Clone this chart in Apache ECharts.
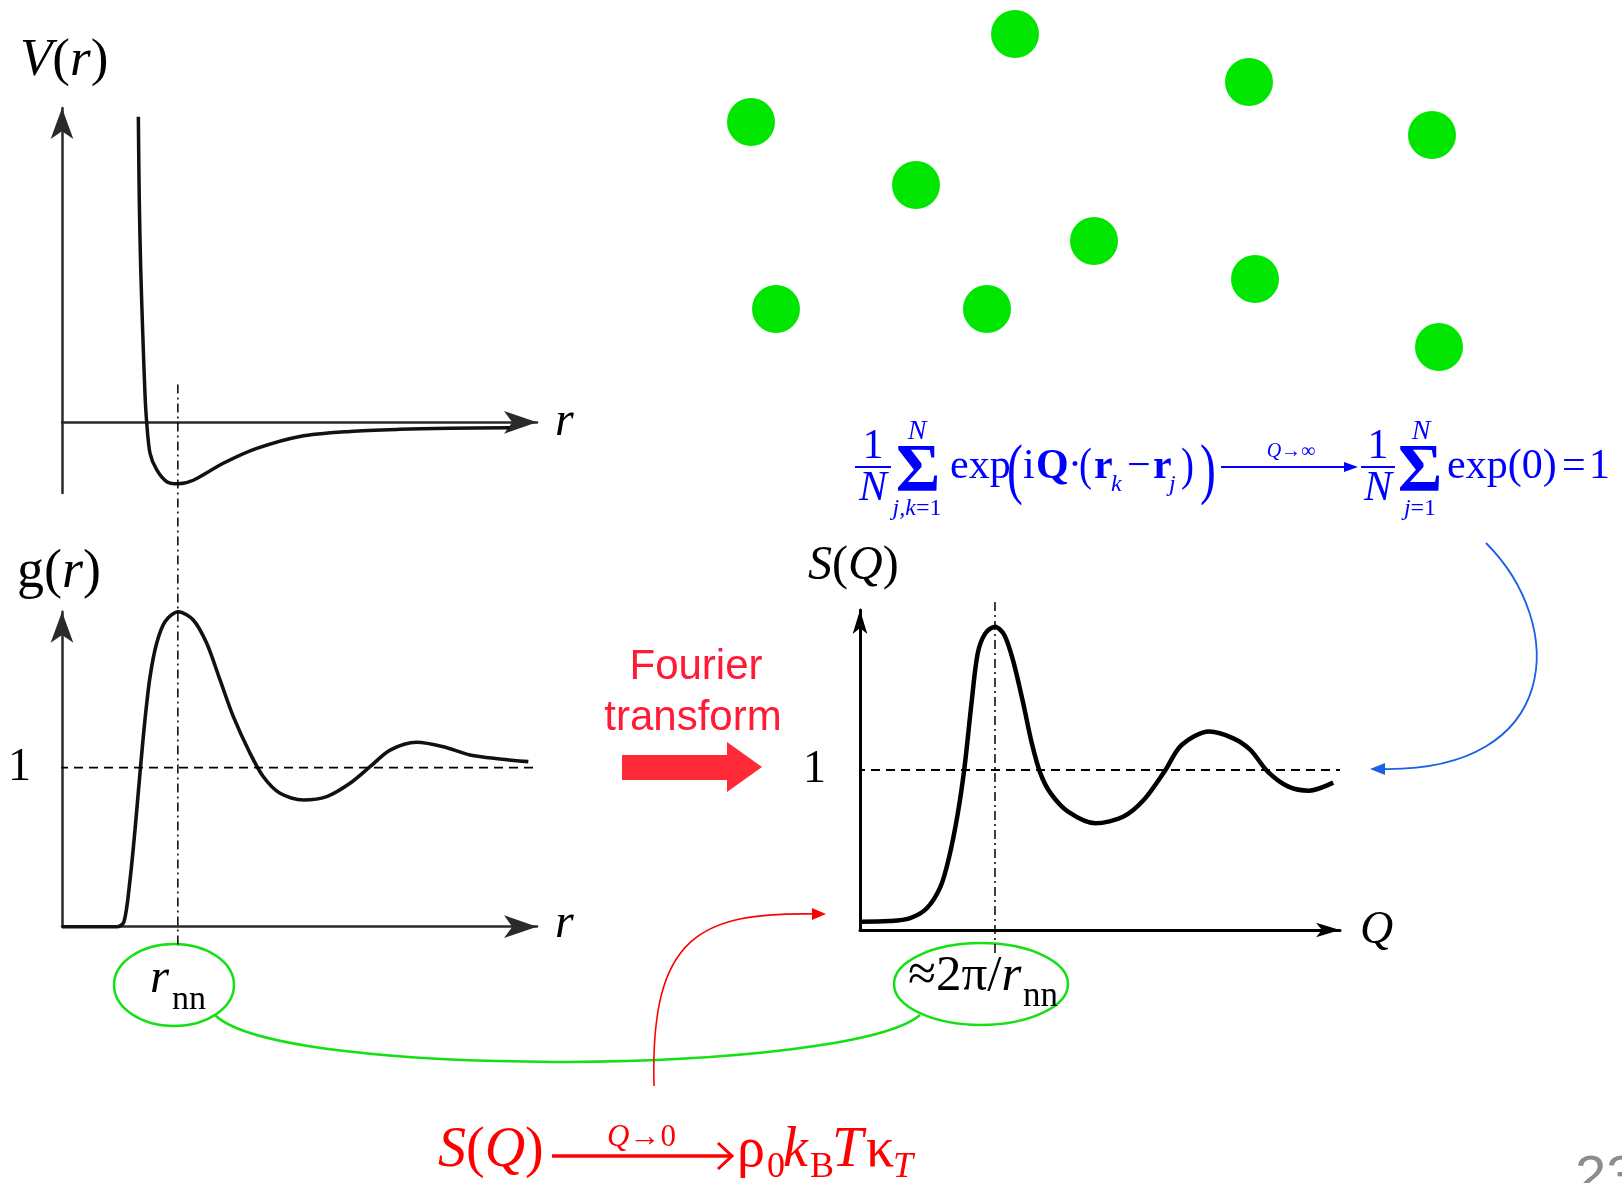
<!DOCTYPE html>
<html><head><meta charset="utf-8">
<script src="https://cdn.jsdelivr.net/npm/echarts@6/dist/echarts.min.js"></script>
<style>html,body{margin:0;padding:0;background:#fff;}#c{width:1622px;height:1183px;}</style>
</head><body><div id="c"></div>
<script>
// ---- data ----
// V(r): r in units of r_nn, V in arbitrary units
const vR = [0.659,0.667,0.679,0.697,0.716,0.731,0.760,0.817,0.904,1.004,1.133,1.392,1.681,2.054,2.486,2.918,3.349,3.867];
const vV = [4.32,3.15,2.20,1.26,0.41,0,-0.44,-0.67,-0.84,-0.87,-0.82,-0.58,-0.37,-0.20,-0.13,-0.10,-0.085,-0.076];
// g(r)
const gR = [0,0.472,0.535,0.587,0.630,0.673,0.716,0.760,0.817,0.889,1.004,1.133,1.249,1.364,1.479,1.623,1.738,1.882,2.083,2.285,2.486,2.659,2.832,3.062,3.291,3.522,3.781,4.025];
const gG = [0,0,0.031,0.294,0.608,0.965,1.30,1.572,1.782,1.918,1.981,1.929,1.782,1.552,1.321,1.091,0.943,0.839,0.797,0.818,0.902,1.006,1.111,1.160,1.132,1.080,1.055,1.038];
// S(Q)
const sQ = [0.028,1.345,2.304,3.109,3.747,4.152,4.552,4.868,5.189,5.478,5.832,6.283,6.716,7.116,7.596,7.996,8.396,8.876,9.681,10.961,12.245,13.204,14.167,14.968,16.252,17.374,18.174,18.975,19.938,20.897,22.024];
const sS = [0.052,0.056,0.073,0.136,0.271,0.458,0.729,1.021,1.417,1.729,1.854,1.896,1.844,1.688,1.417,1.167,0.979,0.854,0.740,0.667,0.708,0.8125,0.990,1.156,1.240,1.198,1.125,0.990,0.896,0.871,0.921];
// particles
const dotX = [1015,1249,751,1432,916,1094,1255,776,987,1439];
const dotY = [34,82,122,135,185,241,279,309,309,347];
const rNN = 1;          // nearest-neighbour distance
const qPeak = 6.283;    // 2*pi/r_nn
const gRefR = [-0.285, 4.109];
const sRefQ = [-0.884, 22.34];
const rnnLineG = [3.41, -0.134];
const qLineS = [2.05, -0.144];

const zip = (a,b)=>a.map((v,i)=>[v,b[i]]);
const SERIF = '"Liberation Serif","Times New Roman",serif';
const SANS = '"Liberation Sans",Arial,sans-serif';
function fnt(size,it,b,fam){return (it?'italic ':'')+(b?'bold ':'')+size+'px '+(fam||SERIF);}
function T(text,x,base,size,o){o=o||{};
  const st={text:text,fill:o.color||'#000',font:fnt(size,o.it,o.b,o.sans?SANS:SERIF),align:o.align||'left',verticalAlign:'middle'};
  if(o.rich) st.rich=o.rich;
  const el={type:'text',x:x,y:base-0.34*size,z:100,silent:true,style:st};
  if(o.sx){el.scaleX=o.sx;}
  return el;
}
function R(size,color){color=color||'#000';return{
  i:{fontStyle:'italic',fontSize:size,fontFamily:SERIF,fill:color},
  u:{fontSize:size,fontFamily:SERIF,fill:color},
  b:{fontWeight:'bold',fontSize:size,fontFamily:SERIF,fill:color}};}
function axis(gi,min,max,symSize,color,width,extra){
  return Object.assign({gridIndex:gi,type:'value',min:min,max:max,
    axisLine:{show:true,onZero:true,symbol:['none','arrow'],symbolSize:symSize,lineStyle:{color:color,width:width}},
    axisTick:{show:false},axisLabel:{show:false},splitLine:{show:false}},extra||{});
}
function line(data,xi,w,color,type,smooth){
  return {type:'line',xAxisIndex:xi,yAxisIndex:xi,data:data,showSymbol:false,symbol:'none',smooth:smooth||false,clip:false,silent:true,
    lineStyle:{color:color,width:w,type:type||'solid'},z:5};
}
const BLUE='#0000ff', RED='#ff0000', GREEN='#14e014', FRED='#ff1a35';

const g = [];
// axis labels
g.push(T('{i|V}{u|(}{i|r}{u|)}',20,79,53,{rich:R(53)}));
g.push(T('{u|g(}{i|r}{u|)}',17,591,54,{rich:R(54)}));
g.push(T('{i|S}{u|(}{i|Q}{u|)}',808,583,48,{rich:R(48)}));
g.push(T('r',555,439,48,{it:true}));
g.push(T('r',555,941,48,{it:true}));
g.push(T('Q',1360,947,46,{it:true}));
g.push(T('1',8,784,46));
g.push(T('1',803,786,46));
// ellipses
g.push({type:'ellipse',shape:{cx:174,cy:985,rx:60,ry:41},style:{stroke:GREEN,lineWidth:2.5,fill:null},silent:true});
g.push({type:'ellipse',shape:{cx:981,cy:984,rx:87,ry:41},style:{stroke:GREEN,lineWidth:2.5,fill:null},silent:true});
g.push({type:'bezierCurve',shape:{x1:215,y1:1015,cpx1:280,cpy1:1080,cpx2:850,cpy2:1075,x2:920,y2:1015},style:{stroke:GREEN,lineWidth:2.5,fill:null},silent:true});
g.push(T('r',150,996,49,{it:true}));
g.push(T('nn',172,1012,34));
g.push(T('{u|≈2π/}{i|r}',908,994,51,{rich:R(51)}));
g.push(T('nn',1023,1009,35));
// Fourier transform
g.push(T('Fourier',696,682,42,{sans:true,align:'center',color:FRED}));
g.push(T('transform',693,733,42,{sans:true,align:'center',color:FRED}));
g.push({type:'polygon',shape:{points:[[622,755],[727,755],[727,742],[762,767],[727,792],[727,780],[622,780]]},style:{fill:'#ff2a38'},silent:true});
// red curve
g.push({type:'bezierCurve',shape:{x1:654,y1:1086,cpx1:650,cpy1:935,cpx2:700,cpy2:912,x2:816,y2:914},style:{stroke:RED,lineWidth:1.6,fill:null},silent:true});
g.push({type:'polygon',shape:{points:[[826,914],[812,908],[812,920]]},style:{fill:RED},silent:true});
// blue curve
g.push({type:'bezierCurve',shape:{x1:1486,y1:543,cpx1:1568,cpy1:625,cpx2:1562,cpy2:772,x2:1382,y2:769},style:{stroke:'#1a5fe6',lineWidth:1.8,fill:null},silent:true});
g.push({type:'polygon',shape:{points:[[1370,769],[1385,763],[1385,775]]},style:{fill:'#1a5fe6'},silent:true});
// blue formula
const BB = 481; // main baseline
g.push(T('1',873,461,42,{align:'center',color:BLUE}));
g.push({type:'line',shape:{x1:855,y1:467,x2:891,y2:467},style:{stroke:BLUE,lineWidth:2},silent:true});
g.push(T('N',873,503,42,{it:true,align:'center',color:BLUE}));
g.push(T('Σ',918,496,68,{b:true,align:'center',color:BLUE}));
g.push(T('N',917,441,28,{it:true,align:'center',color:BLUE}));
g.push(T('{i|j,k}{u|=1}',917,517,24,{align:'center',rich:R(24,BLUE)}));
g.push(T('exp',950,BB,42,{color:BLUE}));
g.push(T('(',1007,496,68,{color:BLUE,sx:0.7}));
g.push(T('i',1023,BB,42,{color:BLUE}));
g.push(T('Q',1036,BB,42,{b:true,color:BLUE}));
g.push(T('·',1068,BB,42,{color:BLUE}));
g.push(T('(',1079,BB+3,46,{color:BLUE,sx:0.85}));
g.push(T('r',1094,BB,42,{b:true,color:BLUE}));
g.push(T('k',1111,BB+12,24,{it:true,color:BLUE}));
g.push(T('−',1127,BB,42,{color:BLUE}));
g.push(T('r',1153,BB,42,{b:true,color:BLUE}));
g.push(T('j',1169,BB+12,24,{it:true,color:BLUE}));
g.push(T(')',1181,BB+3,46,{color:BLUE,sx:0.85}));
g.push(T(')',1200,496,68,{color:BLUE,sx:0.7}));
g.push({type:'line',shape:{x1:1221,y1:467,x2:1347,y2:467},style:{stroke:BLUE,lineWidth:2},silent:true});
g.push({type:'polygon',shape:{points:[[1358,467],[1344,462],[1344,472]]},style:{fill:BLUE},silent:true});
g.push(T('{i|Q}{u|→∞}',1291,459,20,{align:'center',rich:R(20,BLUE)}));
g.push(T('1',1378,461,42,{align:'center',color:BLUE}));
g.push({type:'line',shape:{x1:1361,y1:467,x2:1395,y2:467},style:{stroke:BLUE,lineWidth:2},silent:true});
g.push(T('N',1378,503,42,{it:true,align:'center',color:BLUE}));
g.push(T('Σ',1420,496,68,{b:true,align:'center',color:BLUE}));
g.push(T('N',1421,441,28,{it:true,align:'center',color:BLUE}));
g.push(T('{i|j}{u|=1}',1420,517,24,{align:'center',rich:R(24,BLUE)}));
g.push(T('exp(0)',1447,BB,42,{color:BLUE}));
g.push(T('=',1562,BB,42,{color:BLUE}));
g.push(T('1',1589,BB,42,{color:BLUE}));
// red bottom formula
g.push(T('{i|S}{u|(}{i|Q}{u|)}',438,1170,56,{rich:R(56,RED)}));
g.push({type:'line',shape:{x1:552,y1:1156,x2:731,y2:1156},style:{stroke:RED,lineWidth:3.5},silent:true});
g.push({type:'polyline',shape:{points:[[718,1143],[732,1156],[718,1169]]},style:{stroke:RED,lineWidth:3,fill:null},silent:true});
g.push(T('{i|Q}{u|→0}',607,1148,31,{rich:R(31,RED)}));
g.push(T('ρ',737,1170,56,{color:RED}));
g.push(T('0',767,1180,36,{color:RED}));
g.push(T('k',783,1170,56,{it:true,color:RED}));
g.push(T('B',810,1180,36,{color:RED}));
g.push(T('T',832,1170,56,{it:true,color:RED}));
g.push(T('κ',866,1170,56,{color:RED}));
g.push(T('T',893,1180,36,{it:true,color:RED}));
// page number
g.push(T('23',1575,1198,56,{sans:true,color:'#8c8c8c'}));

const option = {
  animation:false,
  backgroundColor:'#fff',
  grid:[
    {left:62,top:108,width:475,height:385},
    {left:62,top:611.7,width:475,height:315},
    {left:860,top:610,width:480,height:320},
    {left:0,top:0,width:1622,height:1183}
  ],
  xAxis:[
    axis(0,0,4.1,[17,33],'#2a2a2a',2.5),
    axis(1,0,4.1,[17,33],'#2a2a2a',2.5),
    axis(2,0,22.34,[11,24],'#000',3),
    {gridIndex:3,type:'value',min:0,max:1622,show:false}
  ],
  yAxis:[
    axis(0,-1,4.445,[17,31],'#2a2a2a',2.5),
    axis(1,0,1.981,[17,31],'#2a2a2a',2.5),
    axis(2,0,2.0,[11,24],'#000',3),
    {gridIndex:3,type:'value',min:0,max:1183,inverse:true,show:false}
  ],
  series:[
    line(zip(vR,vV),0,3.5,'#111',null,0.3),
    line(zip(gR,gG),1,3.6,'#111',null,0.3),
    line(zip(sQ,sS),2,4.5,'#000',null,0.3),
    line(zip(gRefR,[1,1]),1,1.8,'#000',[9,6]),
    line([[rNN,rnnLineG[0]],[rNN,rnnLineG[1]]],1,1.5,'#000',[9,4,2,4]),
    line(zip(sRefQ,[1,1]),2,1.8,'#000',[9,6]),
    line([[qPeak,qLineS[0]],[qPeak,qLineS[1]]],2,1.5,'#000',[9,4,2,4]),
    {type:'scatter',xAxisIndex:3,yAxisIndex:3,data:zip(dotX,dotY),symbolSize:48,silent:true,itemStyle:{color:'#00e600',opacity:1}}
  ],
  graphic:{elements:g}
};
const chart = echarts.init(document.getElementById('c'));
chart.setOption(option);
</script>
</body></html>
